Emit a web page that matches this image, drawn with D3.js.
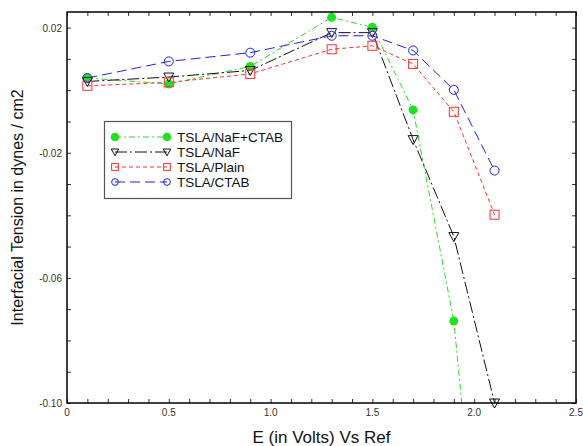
<!DOCTYPE html>
<html>
<head>
<meta charset="utf-8">
<script src="https://cdn.jsdelivr.net/npm/d3@7"></script>
<style>
  html, body { margin: 0; padding: 0; background: #fff; }
  svg { display: block; font-family: "Liberation Sans", Arial, sans-serif; }
</style>
</head>
<body>
<svg id="chart" width="583" height="446"></svg>
<script>
// Potential values (V vs Ref)
const potentials = [0.1, 0.5, 0.9, 1.3, 1.5, 1.7, 1.9, 2.1];

// Interfacial tension readings per electrolyte
const naFCtab = [0.0039, 0.0020, 0.0076, 0.0233, 0.0201, -0.0063, -0.0738, -0.2080];
const naF     = [0.0028, 0.0042, 0.0063, 0.0184, 0.0184, -0.0158, -0.0468, -0.1000];
const plain   = [0.0014, 0.0025, 0.0052, 0.0131, 0.0142, 0.0084, -0.0069, -0.0398];
const ctab    = [0.0039, 0.0092, 0.0120, 0.0174, 0.0174, 0.0127, 0.0001, -0.0257];

const seriesNames = ["TSLA/NaF+CTAB", "TSLA/NaF", "TSLA/Plain", "TSLA/CTAB"];

const xTickLabels = ["0", "0.5", "1.0", "1.5", "2.0", "2.5"];
const yTickLabels = ["0.02", "-0.02", "-0.06", "-0.10"];

const series = [
  { name: seriesNames[0], values: naFCtab, color: "#22e022", dash: "6,3,2,3", marker: "dot" },
  { name: seriesNames[1], values: naF,     color: "#111111", dash: "12,3,2,3", marker: "tri" },
  { name: seriesNames[2], values: plain,   color: "#ff3030", dash: "4,3",     marker: "square" },
  { name: seriesNames[3], values: ctab,    color: "#2020ee", dash: "10,5",    marker: "circle" }
];

const svg = d3.select("#chart");
const m = { left: 67, right: 7, top: 12, bottom: 43 };
const W = 583, H = 446;
const iw = W - m.left - m.right, ih = H - m.top - m.bottom;

const x = d3.scaleLinear().domain([0, 2.5]).range([m.left, m.left + iw]);
const y = d3.scaleLinear().domain([-0.10, 0.025]).range([m.top + ih, m.top]);

svg.append("defs").append("clipPath").attr("id", "plotClip")
  .append("rect").attr("x", m.left).attr("y", m.top).attr("width", iw).attr("height", ih);

// Minor/major ticks on all four sides, pointing inward
const xMinor = d3.range(0, 2.5001, 0.1);
const yMinor = d3.range(-0.10, 0.02501, 0.01);
const tickLen = 4;

const bottomAxis = d3.axisBottom(x).tickValues(xMinor).tickSize(-tickLen).tickFormat("");
const topAxis = d3.axisTop(x).tickValues(xMinor).tickSize(-tickLen).tickFormat("");
const leftAxis = d3.axisLeft(y).tickValues(yMinor).tickSize(-tickLen).tickFormat("");
const rightAxis = d3.axisRight(y).tickValues(yMinor).tickSize(-tickLen).tickFormat("");

function styleAxis(g) {
  g.select(".domain").remove();
  g.selectAll(".tick line").attr("stroke", "#333").attr("stroke-width", 1);
}
svg.append("g").attr("transform", `translate(0,${m.top + ih})`).call(bottomAxis).call(styleAxis);
svg.append("g").attr("transform", `translate(0,${m.top})`).call(topAxis).call(styleAxis);
svg.append("g").attr("transform", `translate(${m.left},0)`).call(leftAxis).call(styleAxis);
svg.append("g").attr("transform", `translate(${m.left + iw},0)`).call(rightAxis).call(styleAxis);

// Tick labels
const xTickVals = xTickLabels.map(Number);
svg.append("g").selectAll("text").data(xTickVals).join("text")
  .attr("x", (d) => x(d)).attr("y", m.top + ih + 13)
  .attr("text-anchor", "middle").attr("font-size", 10).attr("fill", "#333")
  .text((d, i) => xTickLabels[i]);

const yTickVals = yTickLabels.map(Number);
svg.append("g").selectAll("text").data(yTickVals).join("text")
  .attr("x", m.left - 5).attr("y", (d) => y(d) + 4)
  .attr("text-anchor", "end").attr("font-size", 10).attr("fill", "#333")
  .text((d, i) => yTickLabels[i]);

// Axis titles
svg.append("text").attr("x", x(1.25)).attr("y", 443)
  .attr("text-anchor", "middle").attr("font-size", 17).attr("fill", "#111")
  .text("E (in Volts) Vs Ref");
svg.append("text")
  .attr("transform", `translate(23,${m.top + ih / 2}) rotate(-90)`)
  .attr("text-anchor", "middle").attr("font-size", 16).attr("fill", "#111")
  .text("Interfacial Tension in dynes / cm2");

// Series lines
const line = d3.line().x((d) => x(d[0])).y((d) => y(d[1]));
const plot = svg.append("g").attr("clip-path", "url(#plotClip)");
series.forEach((s) => {
  plot.append("path")
    .datum(potentials.map((p, i) => [p, s.values[i]]))
    .attr("d", line)
    .attr("fill", "none").attr("stroke", s.color)
    .attr("stroke-width", 1).attr("stroke-dasharray", s.dash);
});

function drawMarker(g, type, cx, cy, color, k) {
  const r = 4.5 * k;
  if (type === "dot") {
    g.append("circle").attr("cx", cx).attr("cy", cy).attr("r", r).attr("fill", color);
  } else if (type === "circle") {
    g.append("circle").attr("cx", cx).attr("cy", cy).attr("r", r)
      .attr("fill", "none").attr("stroke", color).attr("stroke-width", 1);
  } else if (type === "square") {
    g.append("rect").attr("x", cx - r).attr("y", cy - r).attr("width", 2 * r).attr("height", 2 * r)
      .attr("fill", "none").attr("stroke", color).attr("stroke-width", 1);
  } else if (type === "tri") {
    const a = 5 * k, b = 4 * k;
    g.append("path")
      .attr("d", `M${cx - a},${cy - b}L${cx + a},${cy - b}L${cx},${cy + a}Z`)
      .attr("fill", "none").attr("stroke", color).attr("stroke-width", 1);
  }
}

// Markers (only those within the axis range)
const markers = svg.append("g");
series.forEach((s) => {
  potentials.forEach((p, i) => {
    const v = s.values[i];
    if (v >= y.domain()[0] - 1e-9 && v <= y.domain()[1]) {
      drawMarker(markers, s.marker, x(p), y(v), s.color, 1);
    }
  });
});

// Plot frame
svg.append("rect").attr("x", m.left).attr("y", m.top).attr("width", iw).attr("height", ih)
  .attr("fill", "none").attr("stroke", "#000").attr("stroke-width", 1.5);

// Legend
const lg = svg.append("g");
lg.append("rect").attr("x", 104.5).attr("y", 121.5).attr("width", 187).attr("height", 77)
  .attr("fill", "#fff").attr("stroke", "#555").attr("stroke-width", 1.2);
series.forEach((s, i) => {
  const ly = 137 + i * 15;
  lg.append("line").attr("x1", 115).attr("x2", 167).attr("y1", ly).attr("y2", ly)
    .attr("stroke", s.color).attr("stroke-width", 1).attr("stroke-dasharray", s.dash);
  const k = s.marker === "dot" ? 0.95 : 0.75;
  drawMarker(lg, s.marker, 115, ly, s.color, k);
  drawMarker(lg, s.marker, 167, ly, s.color, k);
  lg.append("text").attr("x", 177).attr("y", ly + 5).attr("font-size", 13.5).attr("fill", "#111")
    .text(s.name);
});
</script>
</body>
</html>
